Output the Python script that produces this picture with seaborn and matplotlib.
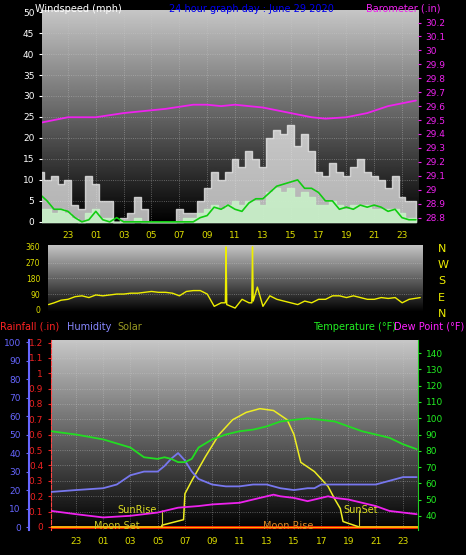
import matplotlib
matplotlib.use("Agg")
import matplotlib.pyplot as plt
import numpy as np
import pandas as pd
import seaborn as sns

sns.set_style("dark")
plt.rcParams["font.family"] = ["DejaVu Sans"]
plt.rcParams["font.size"] = 6.5

# time axis: hours since midnight of June 28 (24 = 00:00 June 29)
half_hours = [21 + 0.5 * i for i in range(55)]

gust_mph = [12, 10, 11, 9, 10, 4, 3, 11, 9, 5, 5, 0, 1, 2, 6, 3, 0, 0, 0, 0,
            3, 2, 2, 5, 8, 12, 10, 12, 15, 13, 17, 15, 13, 20, 22, 21, 23, 18,
            21, 17, 12, 11, 14, 12, 11, 13, 15, 12, 11, 10, 8, 11, 6, 5, 5]
speed_mph = [3, 3, 2, 3, 2, 1, 0, 2, 3, 1, 1, 0, 0, 0, 1, 0, 0, 0, 0, 0,
             0, 1, 1, 2, 3, 4, 3, 4, 5, 4, 5, 5, 4, 7, 8, 7, 8, 6,
             7, 6, 4, 4, 5, 4, 3, 4, 4, 4, 3, 3, 3, 3, 2, 1, 1]
avg_mph = [6.5, 5, 3, 3, 2.5, 1, 0, 0.5, 2.5, 0.5, 0, 1, 0, 0, 0, 0, 0, 0, 0, 0,
           0, 0, 0, 1, 1.5, 3.5, 3, 4, 3, 2.5, 4.5, 5.5, 5.5, 7, 8.5, 9, 9.5, 10,
           8, 8, 7, 5, 5, 3, 3.5, 3, 4, 3.5, 4, 3.5, 2.5, 3, 1, 0.5, 0.5]

baro_hours = [21, 23, 25, 27, 29, 30, 32, 33, 34, 35, 37, 38, 39.5, 40.5, 41.5, 43, 44.5, 46, 47, 48]
baro_in = [29.48, 29.52, 29.52, 29.55, 29.57, 29.58, 29.61, 29.61, 29.60, 29.61,
           29.59, 29.57, 29.54, 29.52, 29.51, 29.52, 29.55, 29.60, 29.62, 29.64]

dir_hours = [21.6, 22, 22.5, 23, 23.5, 24, 24.5, 25, 25.5, 26, 26.5, 27, 27.5, 28, 28.5,
             29, 29.5, 30, 30.5, 31, 31.5, 32, 32.5, 33, 33.5, 34, 34.3, 34.35, 34.4,
             35, 35.5, 36, 36.2, 36.25, 36.3, 36.6, 37, 37.5, 38, 38.5, 39, 39.5, 40,
             40.5, 41, 41.5, 42, 42.5, 43, 43.5, 44, 44.5, 45, 45.5, 46, 46.5, 47, 47.5, 48.3]
dir_deg = [30, 40, 55, 60, 75, 80, 70, 85, 80, 85, 90, 90, 95, 95, 100,
           105, 100, 100, 95, 80, 105, 110, 110, 90, 20, 40, 40, 360, 30,
           10, 60, 40, 40, 360, 50, 130, 20, 80, 60, 50, 40, 30, 50,
           40, 60, 60, 80, 80, 70, 80, 70, 60, 60, 70, 65, 70, 40, 60, 70]

temp_hours = [21.2, 23, 25, 27, 28, 29, 29.5, 30, 30.5, 31, 31.5, 32, 33, 34, 35, 36, 37,
              38, 39, 40, 41, 42, 43, 44, 45, 46, 47, 48]
temp_f = [92, 90, 87, 82, 76, 75, 76, 75, 73, 73, 75, 82, 87, 90, 92, 93, 95,
          98, 99, 100, 99, 98, 95, 92, 90, 88, 84, 81]

hum_hours = [21.2, 23, 25, 26, 27, 28, 29, 29.5, 30, 30.5, 31, 31.5, 32, 33, 34, 35, 36,
             37, 38, 39, 40, 40.5, 41, 42, 43, 44, 45, 46, 47, 48]
hum_pct = [19, 20, 21, 23, 28, 30, 30, 33, 37, 40, 36, 30, 26, 23, 22, 22, 23,
           23, 21, 20, 21, 21, 23, 23, 23, 23, 23, 25, 27, 27]

dew_hours = [21.2, 23, 25, 27, 29, 30.5, 32, 33, 35, 36, 37, 37.5, 38, 39, 40, 41, 41.5,
             42, 43, 44, 45, 46, 47, 48]
dew_f = [43, 41, 39, 40, 42, 45, 46, 47, 48, 50, 52, 53, 52, 51, 49, 51, 52,
         51, 50, 48, 46, 43, 42, 41]

solar_hours = [21.2, 29.3, 29.31, 30.9, 31.0, 31.5, 32.5, 33.5, 34.5, 35.5, 36.5, 37.5, 38.5,
               39.0, 39.5, 40.5, 41.5, 42.0, 42.4, 42.6, 43.0, 43.8, 48.1]
solar_val = [0, 0, 1, 4, 18, 25, 38, 50, 58, 62, 64, 63, 58, 50, 35, 30, 22, 15,
             10, 3, 2, 0, 0]

hour_ticks = list(range(23, 48, 2))
hour_labels = [f"{h % 24:02d}" for h in hour_ticks]

fig = plt.figure(figsize=(4.66, 5.55), dpi=100, facecolor="black")
grad = np.linspace(0.78, 0.0, 256).reshape(-1, 1)


def style_panel(ax):
    ax.set_facecolor("black")
    ax.imshow(grad, cmap="gray", vmin=0, vmax=1, aspect="auto",
              extent=[0, 1, 0, 1], transform=ax.transAxes, zorder=0)
    for s in ax.spines.values():
        s.set_visible(False)
    ax.grid(False)
    ax.set_xlabel("")
    ax.set_ylabel("")


def dotted_grid(ax, ys, xs):
    for y in ys:
        ax.axhline(y, color="#cccccc", linestyle=":", linewidth=0.6, alpha=0.5, zorder=1)
    for x in xs:
        ax.axvline(x, color="#cccccc", linestyle=":", linewidth=0.6, alpha=0.5, zorder=1)


# ---- wind panel ----
ax1 = fig.add_axes([0.090, 0.598, 0.807, 0.384])
style_panel(ax1)
ax1.fill_between(half_hours, gust_mph, step="mid", color="#eeeeee", alpha=0.75, zorder=2)
ax1.fill_between(half_hours, speed_mph, step="mid", color="#c8f0c8", alpha=0.9, zorder=3)
sns.lineplot(x=half_hours, y=avg_mph, ax=ax1, color="#11cc11", linewidth=1.2, zorder=4)
ax1.set_xlim(21.13, 48.15)
ax1.set_ylim(-0.3, 50.5)
ax1.set_yticks(range(0, 51, 5))
ax1.set_xticks(hour_ticks)
ax1.set_xticklabels(hour_labels, color="#dddd00")
ax1.tick_params(axis="y", colors="white", labelsize=6.5, length=2)
ax1.tick_params(axis="x", length=0, labelsize=6.5, pad=6)
dotted_grid(ax1, range(5, 50, 5), hour_ticks)

ax1b = ax1.twinx()
sns.lineplot(x=baro_hours, y=baro_in, ax=ax1b, color="#ee22ee", linewidth=1.3, zorder=5)
baro_ticks = np.round(np.arange(28.8, 30.21, 0.1), 1)
ax1b.set_ylim(28.76, 30.29)
ax1b.set_yticks(baro_ticks)
ax1b.set_yticklabels([f"{v:g}" for v in baro_ticks])
ax1b.tick_params(axis="y", colors="#ee22ee", labelsize=6.5, length=2)
for s in ax1b.spines.values():
    s.set_visible(False)
ax1b.set_ylabel("")

fig.text(0.075, 0.993, "Windspeed (mph)", color="white", fontsize=7, va="top")
fig.text(0.54, 0.993, "24 hour graph day : June 29 2020", color="#0000ee", fontsize=7,
         va="top", ha="center")
fig.text(0.945, 0.993, "Barometer (.in)", color="#ee22ee", fontsize=7, va="top", ha="right")

# ---- wind direction panel ----
ax2 = fig.add_axes([0.103, 0.438, 0.803, 0.121])
style_panel(ax2)
sns.lineplot(x=dir_hours, y=dir_deg, ax=ax2, color="#eeee00", linewidth=1.0, zorder=4)
ax2.set_xlim(21.56, 48.44)
ax2.set_ylim(-12, 372)
ax2.set_yticks([0, 90, 180, 270, 360])
ax2.set_xticks([])
ax2.tick_params(axis="y", colors="#dddd00", labelsize=5.5, length=2)
dotted_grid(ax2, [90, 180, 270], [])
for i, letter in enumerate(["N", "W", "S", "E", "N"]):
    fig.text(0.94, 0.552 - i * 0.0295, letter, color="#eeee00", fontsize=8, va="center")

fig.text(0.0, 0.411, "Rainfall (.in)", color="#ff2222", fontsize=7, va="center")
fig.text(0.143, 0.411, "Humidity", color="#8888ff", fontsize=7, va="center")
fig.text(0.251, 0.411, "Solar", color="#999922", fontsize=7, va="center")
fig.text(0.672, 0.411, "Temperature (°F)", color="#22ee22", fontsize=7, va="center")
fig.text(0.845, 0.411, "Dew Point (°F)", color="#ff22ff", fontsize=7, va="center")

# ---- bottom panel ----
ax3 = fig.add_axes([0.109, 0.045, 0.788, 0.342])
style_panel(ax3)
rain_ticks = np.round(np.arange(0, 1.21, 0.1), 1)
ax3.set_xlim(21.16, 48.1)
ax3.set_ylim(-0.02, 1.215)
ax3.set_yticks(rain_ticks)
ax3.set_yticklabels([f"{v:g}" for v in rain_ticks])
ax3.tick_params(axis="y", colors="#ee2222", labelsize=6.5, length=2)
ax3.set_xticks(hour_ticks)
ax3.set_xticklabels(hour_labels, color="#dddd00")
ax3.tick_params(axis="x", length=0, labelsize=6.5, pad=5)
ax3.spines["left"].set_visible(True)
ax3.spines["left"].set_color("#ff4444")
ax3.spines["left"].set_linestyle("--")
dotted_grid(ax3, rain_ticks[1:-1], hour_ticks)
ax3.axhline(0, color="#ff0000", linewidth=2.0, zorder=6)

ax3h = ax3.twinx()
ax3h.yaxis.tick_left()
ax3h.spines["left"].set_position(("outward", 16))
for s in ["right", "top", "bottom"]:
    ax3h.spines[s].set_visible(False)
ax3h.spines["left"].set_color("#6666ff")
ax3h.spines["left"].set_linewidth(1.5)
ax3h.set_ylim(-1.6, 101)
ax3h.set_yticks(range(0, 101, 10))
ax3h.tick_params(axis="y", colors="#6666ff", labelsize=6.5, length=2)
sns.lineplot(x=solar_hours, y=solar_val, ax=ax3h, color="#eeee22", linewidth=1.1, zorder=5)
sns.lineplot(x=hum_hours, y=hum_pct, ax=ax3h, color="#7777ee", linewidth=1.3, zorder=5)
ax3h.vlines([29.3, 43.8], 0, 9, color="#cccc33", linewidth=0.8, zorder=5)
ax3h.text(28.95, 9, "SunRise", color="#dddd22", fontsize=7, ha="right", va="center", zorder=7)
ax3h.text(43.9, 9, "SunSet", color="#dddd22", fontsize=7, ha="center", va="center", zorder=7)
ax3h.text(26.0, 0.8, "Moon Set", color="#cccc22", fontsize=7, ha="center", va="center", zorder=7)
ax3h.text(38.6, 0.8, "Moon Rise", color="#dd8822", fontsize=7, ha="center", va="center", zorder=7)
ax3h.axhline(0, color="#ffaa00", linewidth=1.0, zorder=6)
ax3h.set_ylabel("")

ax3t = ax3.twinx()
for s in ax3t.spines.values():
    s.set_visible(False)
ax3t.spines["right"].set_visible(True)
ax3t.spines["right"].set_color("#22cc22")
sns.lineplot(x=temp_hours, y=temp_f, ax=ax3t, color="#22dd22", linewidth=1.3, zorder=5)
sns.lineplot(x=dew_hours, y=dew_f, ax=ax3t, color="#ee22ee", linewidth=1.3, zorder=5)
ax3t.set_ylim(31.25, 148)
ax3t.set_yticks(range(40, 141, 10))
ax3t.tick_params(axis="y", colors="#22ee22", labelsize=6.5, length=2)
ax3t.set_ylabel("")

fig.savefig("out.png", dpi=100, facecolor="black")
